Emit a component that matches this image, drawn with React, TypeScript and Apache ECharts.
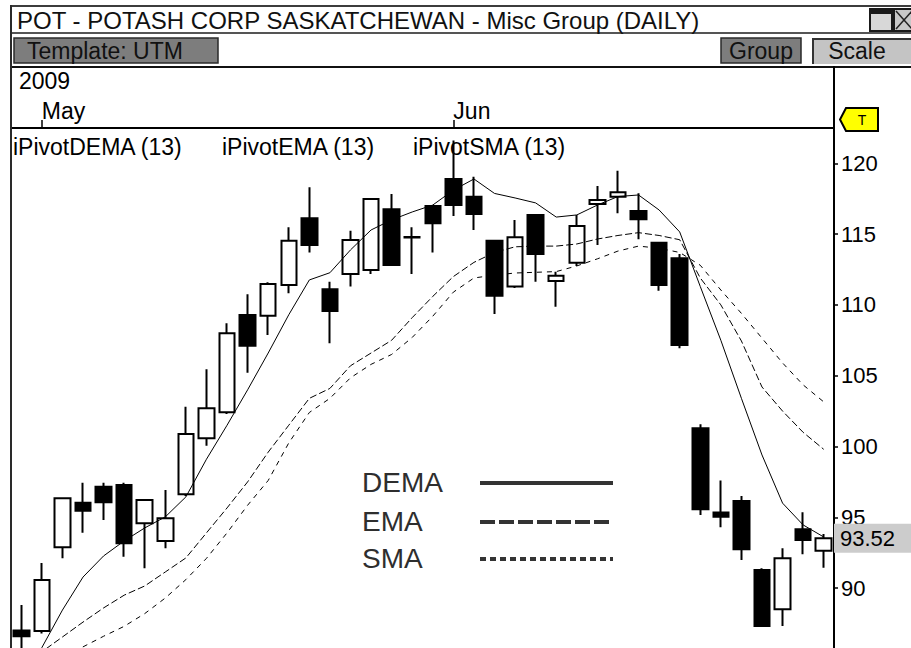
import React, { useEffect, useRef } from "react";
import * as echarts from "echarts";

// ---------- data ----------
const DATES = [
  "2009-04-30", "2009-05-01", "2009-05-04", "2009-05-05", "2009-05-06", "2009-05-07", "2009-05-08",
  "2009-05-11", "2009-05-12", "2009-05-13", "2009-05-14", "2009-05-15", "2009-05-18", "2009-05-19",
  "2009-05-20", "2009-05-21", "2009-05-22", "2009-05-26", "2009-05-27", "2009-05-28", "2009-05-29",
  "2009-06-01", "2009-06-02", "2009-06-03", "2009-06-04", "2009-06-05", "2009-06-08", "2009-06-09",
  "2009-06-10", "2009-06-11", "2009-06-12", "2009-06-15", "2009-06-16", "2009-06-17", "2009-06-18",
  "2009-06-19", "2009-06-22", "2009-06-23", "2009-06-24", "2009-06-25",
];
const OPEN = [
  87.0, 86.97, 92.88, 96.03, 97.16, 97.28, 94.58, 93.33, 96.62, 100.58,
  102.42, 109.29, 109.24, 111.41, 116.12, 111.1, 112.18, 112.46, 116.75, 114.8,
  116.98, 118.89, 117.64, 114.53, 111.29, 116.35, 111.69, 112.98, 117.13, 117.64,
  116.63, 114.39, 113.29, 101.29, 95.33, 96.15, 91.28, 88.5, 94.15, 92.64,
];
const CLOSE = [
  86.6, 90.57, 96.34, 95.47, 96.06, 93.16, 96.22, 94.93, 100.88, 102.7,
  108.0, 107.12, 111.48, 114.53, 114.23, 109.57, 114.58, 117.48, 112.82, 114.75,
  115.76, 117.06, 116.42, 110.65, 114.77, 113.59, 112.06, 115.57, 117.41, 117.95,
  116.05, 111.41, 107.17, 95.57, 95.04, 92.74, 87.32, 92.1, 93.4, 93.52,
];
const LOW = [
  85.3, 86.8, 92.1, 93.91, 94.81, 92.22, 91.4, 92.81, 96.5, 100.06,
  102.3, 105.21, 107.87, 110.82, 113.69, 107.29, 111.29, 112.18, 112.75, 112.18,
  113.69, 116.28, 115.29, 109.36, 111.2, 111.64, 109.87, 112.75, 114.23, 116.47,
  114.63, 111.0, 106.94, 95.16, 94.29, 91.99, 87.3, 87.32, 92.39, 91.44,
];
const HIGH = [
  88.8, 91.77, 96.4, 97.44, 97.44, 97.44, 96.3, 96.93, 102.81, 105.45,
  108.7, 110.75, 111.6, 115.48, 118.31, 111.64, 115.24, 117.55, 117.83, 115.48,
  117.0, 121.6, 119.05, 114.6, 116.0, 116.4, 112.34, 116.35, 118.4, 119.48,
  117.88, 114.45, 113.59, 101.57, 97.59, 96.5, 91.4, 92.81, 95.35, 93.82,
];
const DEMA = [
  84.0, 85.8, 88.45, 90.78, 92.27, 93.33, 94.25, 95.03, 96.44, 99.1,
  101.5, 104.0, 106.6, 109.3, 111.76, 112.27, 113.88, 115.29, 116.0, 116.56,
  117.05, 118.1, 118.89, 117.87, 117.55, 117.2, 116.2, 116.35, 117.05, 117.65,
  117.76, 116.7, 115.15, 111.3, 107.5, 103.4, 99.4, 96.0, 94.46, 93.61,
];
const EMA = [
  84.5, 85.5, 86.55, 87.6, 88.6, 89.5, 90.15, 91.14, 92.13, 93.9,
  95.66, 97.5, 99.6, 101.5, 103.4, 104.1, 105.7, 106.6, 107.5, 109.1,
  110.6, 112.0, 113.0, 113.7, 114.1, 114.15, 114.15, 114.3, 114.65, 114.9,
  115.1, 114.9, 114.6, 111.9, 110.0, 107.45, 104.2, 102.5, 101.0, 99.8,
];
const SMA = [
  83.5, 84.4, 85.1, 85.85, 86.6, 87.3, 88.2, 89.3, 90.6, 92.1,
  93.9, 95.85, 97.6, 100.25, 102.4, 103.4, 104.85, 105.8, 106.5, 107.7,
  109.2, 110.9, 111.9, 112.1, 112.25, 112.3, 112.35, 112.75, 113.25, 113.8,
  114.15, 114.0, 113.7, 112.8, 111.05, 109.4, 107.65, 105.9, 104.35, 103.15,
];
const Y_TICKS = [90, 95, 100, 105, 110, 115, 120];
const Y_MIN = 85.77;
const Y_MAX = 122.49;
const MONTH_DATES = ["2009-05-01", "2009-06-01"];
const MONTH_NAMES = ["May", "Jun"];
const LAST_CLOSE = 93.52;
const TITLE = "POT - POTASH CORP SASKATCHEWAN - Misc Group (DAILY)";
const INDICATORS = ["iPivotDEMA (13)", "iPivotEMA (13)", "iPivotSMA (13)"];
const LEGEND_NAMES = ["DEMA", "EMA", "SMA"];

const FONT = "Arial, 'Liberation Sans', Helvetica, sans-serif";

function txt(x: number, y: number, text: string, size = 23, fill = "#000", align = "left", extra: any = {}) {
  return {
    type: "text",
    x,
    y,
    z: 10,
    style: { text, fontSize: size, fontFamily: FONT, fill, align, verticalAlign: "middle", ...extra },
  };
}

export default function App() {
  const ref = useRef<HTMLDivElement>(null);

  useEffect(() => {
    const chart = echarts.init(ref.current!, null, { renderer: "svg" });
    const candles = DATES.map((_, i) => [OPEN[i], CLOSE[i], LOW[i], HIGH[i]]);
    const monthIdx = (v: string) => MONTH_DATES.indexOf(v);

    const graphics: any[] = [
      // outer frame
      { type: "rect", shape: { x: 11, y: 5, width: 900, height: 2 }, style: { fill: "#3c3c3c" } },
      { type: "rect", shape: { x: 10, y: 5, width: 2, height: 643 }, style: { fill: "#2a2a2a" }, z: 20 },
      { type: "rect", shape: { x: 11, y: 32, width: 900, height: 2 }, style: { fill: "#555" } },
      { type: "rect", shape: { x: 11, y: 66, width: 900, height: 2 }, style: { fill: "#111" } },
      { type: "rect", shape: { x: 833, y: 66, width: 2, height: 62 }, style: { fill: "#000" } },
      // title
      txt(17, 20, TITLE, 24, "#111"),
      // window icons
      { type: "rect", shape: { x: 870, y: 9, width: 22, height: 22 }, style: { fill: "#d8d8d8", stroke: "#1a1a1a", lineWidth: 2 } },
      { type: "rect", shape: { x: 870, y: 9, width: 22, height: 5 }, style: { fill: "#1a1a1a" } },
      { type: "rect", shape: { x: 894, y: 9, width: 22, height: 22 }, style: { fill: "#c8c8c8", stroke: "#1a1a1a", lineWidth: 2 } },
      { type: "line", shape: { x1: 896, y1: 11, x2: 912, y2: 29 }, style: { stroke: "#222", lineWidth: 1.5 } },
      { type: "line", shape: { x1: 912, y1: 11, x2: 896, y2: 29 }, style: { stroke: "#222", lineWidth: 1.5 } },
      // toolbar buttons
      { type: "rect", shape: { x: 14, y: 38, width: 204, height: 25 }, style: { fill: "#7d7d7d", stroke: "#2a2a2a", lineWidth: 1.5 } },
      txt(27, 51, "Template: UTM", 23, "#111"),
      { type: "rect", shape: { x: 721, y: 38, width: 80, height: 25 }, style: { fill: "#7d7d7d", stroke: "#2a2a2a", lineWidth: 1.5 } },
      txt(761, 51, "Group", 23, "#111", "center"),
      { type: "rect", shape: { x: 812, y: 38, width: 100, height: 26 }, style: { fill: "#c4c4c4" } },
      { type: "rect", shape: { x: 812, y: 38, width: 2, height: 26 }, style: { fill: "#333" } },
      { type: "rect", shape: { x: 812, y: 38, width: 100, height: 2 }, style: { fill: "#333" } },
      txt(857, 51, "Scale", 23, "#111", "center"),
      // year
      txt(19, 81, "2009", 23, "#000"),
      // T marker
      {
        type: "polygon",
        shape: { points: [[846, 108], [878, 108], [878, 131], [846, 131], [840, 119.5]] },
        style: { fill: "#ffff00", stroke: "#000", lineWidth: 2 },
      },
      txt(862, 120, "T", 14, "#000", "center"),
      // indicator names
      txt(13, 147, INDICATORS[0]),
      txt(222, 147, INDICATORS[1]),
      txt(413, 147, INDICATORS[2]),
      // legend
      txt(362, 482, LEGEND_NAMES[0], 28, "#2e2e2e"),
      txt(362, 521, LEGEND_NAMES[1], 28, "#2e2e2e"),
      txt(362, 558, LEGEND_NAMES[2], 28, "#2e2e2e"),
      { type: "line", z: 10, shape: { x1: 480, y1: 483, x2: 613, y2: 483 }, style: { stroke: "#333", lineWidth: 4 } },
      { type: "line", z: 10, shape: { x1: 480, y1: 522, x2: 613, y2: 522 }, style: { stroke: "#333", lineWidth: 4, lineDash: [15, 4] } },
      { type: "line", z: 10, shape: { x1: 480, y1: 559, x2: 613, y2: 559 }, style: { stroke: "#333", lineWidth: 4, lineDash: [6, 4] } },
    ];

    chart.setOption({
      animation: false,
      backgroundColor: "#fff",
      textStyle: { fontFamily: FONT },
      grid: { left: 11, right: 77, top: 128, bottom: 0, containLabel: false },
      xAxis: {
        type: "category",
        data: DATES,
        position: "top",
        boundaryGap: true,
        axisLine: { show: true, lineStyle: { color: "#000", width: 2 } },
        axisTick: {
          show: true,
          alignWithLabel: true,
          interval: (_i: number, v: string) => monthIdx(v) >= 0,
          length: 8,
          lineStyle: { color: "#000", width: 1.5 },
        },
        axisLabel: {
          show: true,
          interval: (_i: number, v: string) => monthIdx(v) >= 0,
          formatter: (v: string) => (monthIdx(v) >= 0 ? MONTH_NAMES[monthIdx(v)] : ""),
          align: "left",
          margin: 6,
          fontSize: 23,
          color: "#000",
          fontFamily: FONT,
        },
        splitLine: { show: false },
      },
      yAxis: {
        type: "value",
        position: "right",
        min: Y_MIN,
        max: Y_MAX,
        axisLine: { show: true, lineStyle: { color: "#000", width: 2 } },
        axisTick: { show: true, customValues: Y_TICKS, length: 4, lineStyle: { color: "#000", width: 1.5 } },
        axisLabel: {
          show: true,
          customValues: Y_TICKS,
          margin: 7,
          fontSize: 22,
          color: "#000",
          fontFamily: FONT,
        },
        splitLine: { show: false },
      },
      graphic: graphics,
      series: [
        {
          type: "candlestick",
          data: candles,
          barWidth: 16,
          itemStyle: {
            color: "#fff",
            color0: "#000",
            borderColor: "#000",
            borderColor0: "#000",
            borderWidth: 2,
          },
          markLine: {
            silent: true,
            symbol: ["none", "none"],
            lineStyle: { color: "rgba(0,0,0,0)", width: 1, type: "solid" },
            data: [{ yAxis: LAST_CLOSE }],
            label: {
              show: true,
              position: "end",
              distance: 0,
              formatter: () => LAST_CLOSE.toFixed(2),
              color: "#000",
              opacity: 1,
              fontSize: 22,
              fontFamily: FONT,
              backgroundColor: "#cccccc",
              padding: [4, 22, 3, 6],
            },
          },
        },
        {
          type: "line",
          name: "DEMA",
          data: DEMA,
          symbol: "none",
          clip: true,
          lineStyle: { color: "#000", width: 1 },
        },
        {
          type: "line",
          name: "EMA",
          data: EMA,
          symbol: "none",
          clip: true,
          lineStyle: { color: "#000", width: 1, type: [7, 3] },
        },
        {
          type: "line",
          name: "SMA",
          data: SMA,
          symbol: "none",
          clip: true,
          lineStyle: { color: "#000", width: 1, type: [5, 5] },
        },
      ],
    });
    return () => chart.dispose();
  }, []);

  return (
    <div
      ref={ref}
      style={{ position: "absolute", left: 0, top: 0, width: 911, height: 648, background: "#fff" }}
    />
  );
}
